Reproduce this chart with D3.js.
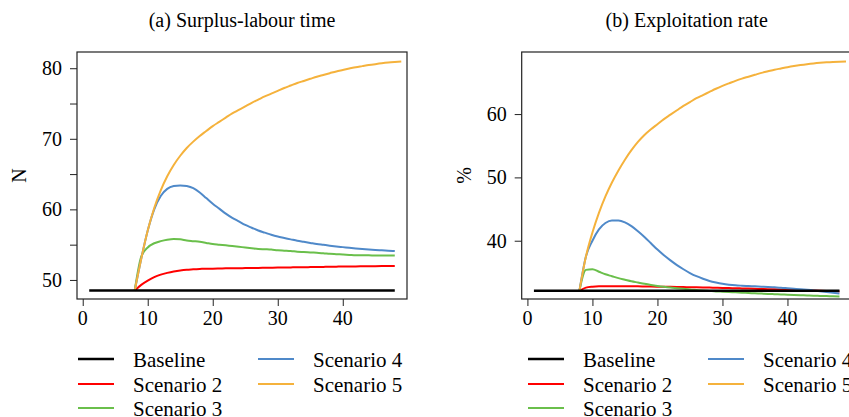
<!DOCTYPE html>
<html>
<head>
<meta charset="utf-8">
<script src="https://cdn.jsdelivr.net/npm/d3@7"></script>
</head>
<body style="margin:0">
<svg id="chart" width="849" height="417"></svg>
<script>
// ---------------- data ----------------
const baselineT = [1, 48];
const scenT = d3.range(8, 49);          // 8 .. 48
const scenT5 = d3.range(8, 50);         // 8 .. 49

const seriesNames = ["Baseline", "Scenario 2", "Scenario 3", "Scenario 4", "Scenario 5"];
const seriesColors = ["#000000", "#ff0000", "#6abf4b", "#4f89c9", "#f5b23c"];

// (a) Surplus-labour time (N)
const surplusBaseline = [48.5, 48.5];
const surplusS2 = [48.5, 49.3, 49.9, 50.4, 50.75, 51.0, 51.2, 51.35, 51.45, 51.5, 51.55, 51.6, 51.6, 51.62, 51.65, 51.66, 51.67, 51.68, 51.7, 51.7, 51.72, 51.74, 51.75, 51.76, 51.78, 51.8, 51.8, 51.82, 51.84, 51.85, 51.86, 51.88, 51.9, 51.9, 51.92, 51.93, 51.94, 51.95, 51.96, 51.97, 51.98];
const surplusS3 = [48.5, 53.3, 54.6, 55.2, 55.5, 55.7, 55.8, 55.75, 55.6, 55.5, 55.4, 55.25, 55.1, 55.0, 54.9, 54.8, 54.7, 54.6, 54.5, 54.4, 54.35, 54.3, 54.2, 54.15, 54.1, 54.0, 53.95, 53.9, 53.85, 53.8, 53.7, 53.65, 53.6, 53.55, 53.5, 53.5, 53.5, 53.45, 53.45, 53.45, 53.45];
const surplusS4 = [48.5, 53.0, 57.0, 60.0, 61.9, 62.9, 63.3, 63.4, 63.3, 63.0, 62.4, 61.6, 60.8, 60.1, 59.4, 58.8, 58.3, 57.8, 57.4, 57.0, 56.7, 56.4, 56.15, 55.95, 55.75, 55.55, 55.4, 55.25, 55.1, 54.98, 54.86, 54.75, 54.65, 54.55, 54.46, 54.38, 54.31, 54.25, 54.2, 54.15, 54.1];
const surplusS5 = [48.5, 53.0, 57.0, 60.2, 62.7, 64.7, 66.3, 67.6, 68.7, 69.6, 70.4, 71.1, 71.8, 72.4, 73.0, 73.6, 74.1, 74.6, 75.1, 75.55, 76.0, 76.4, 76.8, 77.2, 77.55, 77.9, 78.2, 78.5, 78.8, 79.05, 79.3, 79.55, 79.75, 79.95, 80.15, 80.3, 80.45, 80.58, 80.7, 80.8, 80.88, 80.95];

// (b) Exploitation rate (%)
const rateBaseline = [32.1, 32.1];
const rateS2 = [32.1, 32.6, 32.75, 32.8, 32.8, 32.8, 32.8, 32.8, 32.8, 32.8, 32.78, 32.76, 32.75, 32.74, 32.72, 32.7, 32.68, 32.66, 32.64, 32.62, 32.6, 32.57, 32.55, 32.52, 32.5, 32.47, 32.44, 32.41, 32.38, 32.35, 32.32, 32.29, 32.26, 32.23, 32.2, 32.16, 32.13, 32.1, 32.07, 32.04, 32.0];
const rateS3 = [32.1, 35.4, 35.5, 35.1, 34.7, 34.4, 34.1, 33.85, 33.6, 33.4, 33.2, 33.02, 32.86, 32.72, 32.6, 32.5, 32.4, 32.3, 32.22, 32.14, 32.07, 32.0, 31.95, 31.9, 31.85, 31.8, 31.75, 31.7, 31.65, 31.6, 31.56, 31.52, 31.48, 31.44, 31.4, 31.36, 31.32, 31.29, 31.26, 31.23, 31.2];
const rateS4 = [32.1, 37.5, 40.0, 41.8, 42.8, 43.2, 43.2, 42.9, 42.3, 41.5, 40.6, 39.6, 38.6, 37.7, 36.9, 36.15, 35.5, 34.9, 34.4, 34.0, 33.65, 33.4, 33.2, 33.06, 32.96, 32.9, 32.85, 32.8, 32.75, 32.7, 32.64, 32.58, 32.5, 32.42, 32.34, 32.25, 32.15, 32.03, 31.9, 31.77, 31.65];
const rateS5 = [32.1, 37.5, 41.3, 44.4, 47.0, 49.2, 51.1, 52.8, 54.3, 55.6, 56.7, 57.6, 58.4, 59.2, 59.9, 60.6, 61.3, 61.9, 62.5, 63.0, 63.5, 64.0, 64.45, 64.85, 65.25, 65.6, 65.9, 66.2, 66.5, 66.75, 67.0, 67.2, 67.4, 67.58, 67.74, 67.88, 68.0, 68.1, 68.18, 68.24, 68.28, 68.3];

const xTicks = [0, 10, 20, 30, 40];
const surplusYTicks = [50, 55, 60, 65, 70, 75, 80];
const surplusYLabels = [50, 60, 70, 80];
const rateYTicks = [40, 50, 60];
const rateYLabels = [40, 50, 60];

// ---------------- drawing ----------------
const svg = d3.select("#chart");

const panels = [
  {
    title: "(a) Surplus-labour time", ylab: "N",
    left: 77, yDomain: [47.3, 82.3], yTicks: surplusYTicks, yLabels: surplusYLabels,
    series: [surplusBaseline, surplusS2, surplusS3, surplusS4, surplusS5],
    legendX: 78, ylabX: 19
  },
  {
    title: "(b) Exploitation rate", ylab: "%",
    left: 521.7, yDomain: [30.8, 69.8], yTicks: rateYTicks, yLabels: rateYLabels,
    series: [rateBaseline, rateS2, rateS3, rateS4, rateS5],
    legendX: 528, ylabX: 464
  }
];

const boxW = 330, plotTop = 52, plotBottom = 299;

// every text is a direct child of the svg root with its own font-family attribute
function addText(xp, yp, str, size, anchor, rotate) {
  const t = svg.append("text")
    .attr("font-family", "Liberation Serif")
    .attr("font-size", size)
    .attr("text-anchor", anchor || "start")
    .text(str);
  if (rotate) t.attr("transform", `translate(${xp},${yp}) rotate(-90)`);
  else t.attr("x", xp).attr("y", yp);
  return t;
}

panels.forEach(p => {
  const x = d3.scaleLinear().domain([-0.88, 49.88]).range([p.left, p.left + boxW]);
  const y = d3.scaleLinear().domain(p.yDomain).range([plotBottom, plotTop]);

  const clipId = "clip" + Math.round(p.left);
  svg.append("clipPath").attr("id", clipId)
    .append("rect").attr("x", p.left).attr("y", plotTop).attr("width", boxW).attr("height", plotBottom - plotTop);

  // d3 axes for tick marks (labels drawn from the same scales below)
  const ya = svg.append("g").attr("transform", `translate(${p.left},0)`)
    .call(d3.axisLeft(y).tickValues(p.yTicks).tickSize(7).tickFormat(""));
  ya.select(".domain").remove();
  ya.selectAll("line").attr("stroke", "#222");
  ya.selectAll("text").remove();

  const xa = svg.append("g").attr("transform", `translate(0,${plotBottom})`)
    .call(d3.axisBottom(x).tickValues(xTicks).tickSize(7).tickFormat(""));
  xa.select(".domain").remove();
  xa.selectAll("line").attr("stroke", "#222");
  xa.selectAll("text").remove();

  p.yLabels.forEach(v => addText(p.left - 15, y(v) + 7, String(v), 20, "end"));
  xTicks.forEach(v => addText(x(v), plotBottom + 26, String(v), 20, "middle"));

  addText(p.left + boxW / 2, 27, p.title, 20, "middle");
  addText(p.ylabX + 7, (plotTop + plotBottom) / 2, p.ylab, 20, "middle", true);

  const line = d3.line().x(d => x(d[0])).y(d => y(d[1])).curve(d3.curveMonotoneX);
  const lg = svg.append("g").attr("clip-path", `url(#${clipId})`);
  [1, 2, 3, 4, 0].forEach(i => {
    const vals = p.series[i];
    const ts = i === 0 ? baselineT : (i === 4 ? scenT5 : scenT);
    const pts = vals.map((v, k) => [ts[k], v]);
    lg.append("path").datum(pts).attr("d", line)
      .attr("fill", "none").attr("stroke", seriesColors[i])
      .attr("stroke-width", i === 0 ? 2.6 : 2).attr("stroke-linejoin", "round");
  });

  svg.append("rect").attr("x", p.left).attr("y", plotTop).attr("width", boxW).attr("height", plotBottom - plotTop)
    .attr("fill", "none").attr("stroke", "#222").attr("stroke-width", 1.2);

  const rows = [[0, 0, 359], [1, 0, 384], [2, 0, 408], [3, 1, 359], [4, 1, 384]];
  rows.forEach(([i, col, yy]) => {
    const lx = p.legendX + col * 180;
    svg.append("line").attr("x1", lx).attr("x2", lx + 36).attr("y1", yy).attr("y2", yy)
      .attr("stroke", seriesColors[i]).attr("stroke-width", i === 0 ? 2.4 : 2);
    addText(lx + 55, yy + 8, seriesNames[i], 21, "start");
  });
});
</script>
</body>
</html>
